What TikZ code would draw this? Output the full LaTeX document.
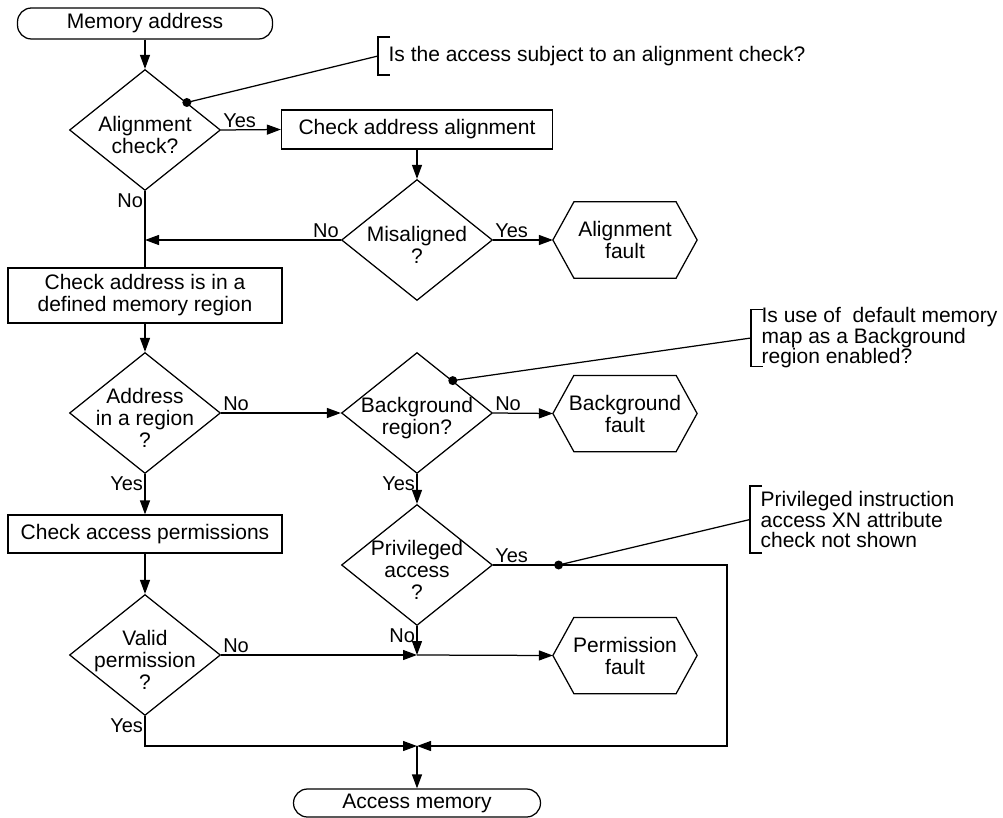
\documentclass[tikz,border=0pt]{standalone}
\usepackage{fontspec}
\setmainfont{Liberation Sans}
\usetikzlibrary{arrows.meta,shapes.geometric,calc}

\begin{document}
\begin{tikzpicture}[x=1pt, y=-1pt, line width=1.25pt,
  every node/.style={font=\fontsize{21}{22}\selectfont, align=center},
  terminal/.style={draw, rounded corners=14pt, inner sep=0pt},
  process/.style={draw, rectangle, minimum width=274pt, inner sep=0pt},
  decision/.style={draw, diamond, aspect=1.25, minimum width=151pt, minimum height=121pt, inner sep=0pt},
  dtext/.style={yshift=-5pt},
  fault/.style={minimum width=143pt, minimum height=75pt, inner sep=0pt},
  note/.style={anchor=west, align=left, inner xsep=10pt, inner ysep=0pt, font=\fontsize{21}{20.5}\selectfont},
  yn/.style={font=\fontsize{20}{22}\selectfont, inner sep=1.5pt},
  arr/.style={-{Triangle[length=14pt, width=10pt]}},
  dot/.style={circle, fill, inner sep=0pt, minimum size=9pt}]
  \useasboundingbox (0,0) rectangle (1003,818);

  % left column
  \node[terminal, minimum width=255pt, minimum height=31pt] (mem) at (145,23.5) {Memory address};
  \node[decision, label={[dtext]center:{Alignment\\check?}}] (align) at (145,130) {};
  \node[process, minimum height=55pt] (region) at (145,295.5) {Check address is in a\\defined memory region};
  \node[decision, label={[dtext]center:{Address\\in a region\\?}}] (inreg) at (145,413) {};
  \node[process, minimum height=38pt] (perm) at (145,534) {Check access permissions};
  \node[decision, label={[dtext]center:{Valid\\permission\\?}}] (valid) at (145,655) {};

  % middle column
  \node[process, minimum width=271pt, minimum height=39pt] (chk) at (417,129.5) {Check address alignment};
  \node[decision, label={[dtext]center:{Misaligned\\?}}] (misal) at (417,240) {};
  \node[decision, label={[dtext]center:{Background\\region?}}] (bg) at (417,413) {};
  \node[decision, label={[dtext]center:{Privileged\\access\\?}}] (priv) at (417,565) {};
  \node[terminal, minimum width=247pt, minimum height=28pt] (acc) at (417,803) {Access memory};

  % faults
  \node[fault] (afault) at (625,240) {Alignment\\fault};
  \node[fault] (bgfault) at (625,413.5) {Background\\fault};
  \node[fault] (pfault) at (625,655.5) {Permission\\fault};
  \foreach \h in {afault,bgfault,pfault}
    \draw (\h.west) -- ([xshift=21pt]\h.north west) -- ([xshift=-21pt]\h.north east)
      -- (\h.east) -- ([xshift=-21pt]\h.south east) -- ([xshift=21pt]\h.south west) -- cycle;

  % notes
  \node[note] (note1) at (378,56) {Is the access subject to an alignment check?};
  \node[note] (note2) at (751,338) {Is use of\ \ default memory\\map as a Background\\region enabled?};
  \node[note] (note3) at (750,519.5) {Privileged instruction\\access XN attribute\\check not shown};
  \foreach \n/\s in {note1/19, note2/28.5, note3/33.5}
    \draw ($(\n.west)+(12,-\s)$) -- ($(\n.west)+(0,-\s)$) -- ($(\n.west)+(0,\s)$) -- ($(\n.west)+(12,\s)$);

  % join points
  \coordinate (mergeA) at (align.south |- misal.west);
  \coordinate (joinP) at (priv.south |- valid.east);
  \coordinate (corner) at (727,565);
  \coordinate (joinM) at (417,746);

  % connectors
  \draw[arr] (mem) -- (align);
  \draw[arr] (align.east) -- (chk.west);
  \draw[arr] (chk) -- (misal);
  \draw[arr] (misal.east) -- (afault.west);
  \draw[arr] (misal.west) -- (mergeA);
  \draw (align.south) -- (region.north);
  \draw[arr] (region) -- (inreg);
  \draw[arr] (inreg.east) -- (bg.west);
  \draw[arr] (bg.east) -- (bgfault.west);
  \draw[arr] (bg.south) -- (priv.north);
  \draw[arr] (inreg.south) -- (perm.north);
  \draw[arr] (perm) -- (valid);
  \draw[arr] (valid.east) -- (joinP);
  \draw[arr] (priv.south) -- (joinP);
  \draw[arr] (joinP) -- (pfault.west);
  \draw[arr] (valid.south) |- (joinM);
  \draw[arr] (priv.east) -- (corner) |- (joinM);
  \draw[arr] (joinM) -- (acc);

  % callout lines
  \node[dot] (d1) at ($(align.north)!0.55!(align.east)$) {};
  \node[dot] (d2) at ($(bg.north)!0.47!(bg.east)$) {};
  \node[dot] (d3) at ($(priv.east)!0.28!(corner)$) {};
  \draw (d1.center) -- (note1.west);
  \draw (d2.center) -- (note2.west);
  \draw (d3.center) -- (note3.west);

  % yes / no
  \node[yn, above right] (y1) at (align.east) {Yes};
  \node[yn, below left] (n1) at (align.south) {No};
  \node[yn, above left] (n2) at (misal.west) {No};
  \node[yn, above right] (y2) at (misal.east) {Yes};
  \node[yn, above right] (n3) at (inreg.east) {No};
  \node[yn, below left] (y3) at (inreg.south) {Yes};
  \node[yn, above right] (n4) at (bg.east) {No};
  \node[yn, below left] (y4) at (bg.south) {Yes};
  \node[yn, above right] (y5) at (priv.east) {Yes};
  \node[yn, below left] (n5) at (priv.south) {No};
  \node[yn, above right] (n6) at (valid.east) {No};
  \node[yn, below left] (y6) at (valid.south) {Yes};
\end{tikzpicture}
\end{document}
